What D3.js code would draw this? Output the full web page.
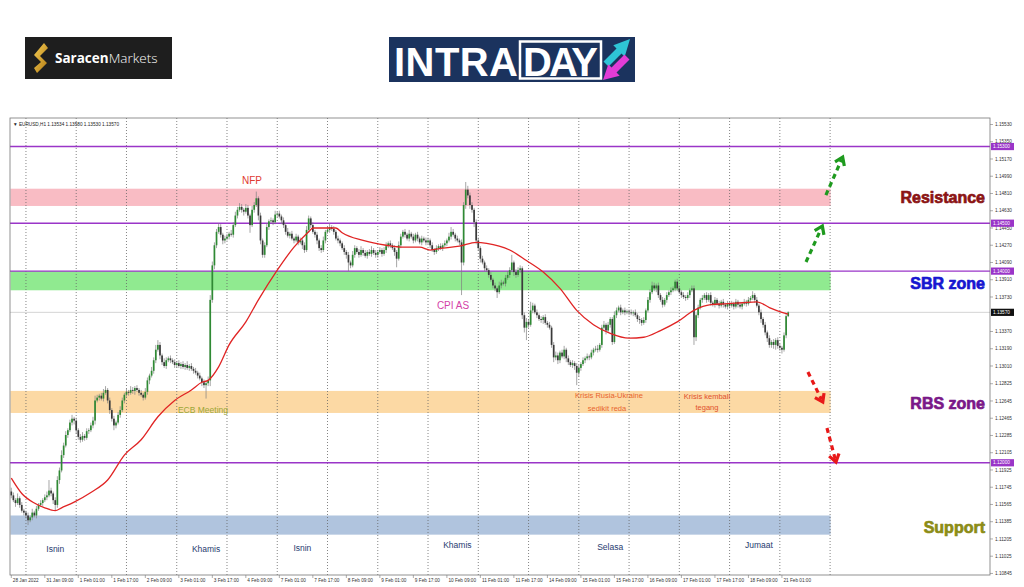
<!DOCTYPE html>
<html><head><meta charset="utf-8">
<script src="https://cdn.jsdelivr.net/npm/d3@7"></script>
<style>html,body{margin:0;padding:0;background:#fff;}svg{display:block;}</style>
</head><body>
<svg id="c" width="1024" height="587"></svg>
<script>
// ---------- DATA (EURUSD H1, prices in pips above BASE) ----------
const BASE = 1.1, PIP = 0.0001;
const firstOpen = 170;
const closes = [
166,161,158,163,156,150,148,
145,140,143,148,145,152,156,158,161,164,166,171,168,161,156,182,192,208,218,229,234,242,246,244,
234,227,224,228,226,233,234,239,244,265,268,270,267,273,276,265,255,246,239,242,250,255,265,271,
274,273,276,275,278,276,273,271,268,274,286,291,296,307,318,323,312,305,301,307,309,307,305,302,
304,301,303,300,302,299,301,298,296,294,291,288,284,281,283,286,370,406,427,441,446,438,432,434,
436,439,438,448,458,464,467,464,462,466,458,448,464,469,476,458,432,417,427,446,452,453,451,459,
460,457,453,448,441,437,439,434,432,436,430,432,427,422,443,455,448,441,438,432,424,422,432,441,
443,446,444,441,434,432,429,424,420,417,409,406,417,424,420,417,422,419,416,420,418,422,419,417,
420,422,418,422,426,429,427,424,420,413,427,436,441,438,434,439,436,432,438,434,430,434,432,430,
432,427,422,420,424,426,424,427,429,432,436,441,438,434,432,430,409,469,485,479,469,464,451,432,
424,413,409,403,401,396,391,385,382,378,385,388,387,393,396,401,409,399,396,401,403,354,341,347,
344,359,364,357,354,350,349,352,346,344,341,323,310,312,307,315,311,318,309,305,302,304,301,294,
299,303,307,309,311,310,315,318,319,318,323,341,344,338,344,350,326,354,359,362,357,359,357,358,
357,356,357,354,350,349,346,349,359,370,378,385,382,385,375,370,365,370,375,378,380,382,389,382,
378,375,373,372,375,380,382,331,354,362,370,372,375,370,375,367,365,370,366,364,368,365,363,366,
364,366,363,368,365,363,366,368,366,370,372,375,370,364,357,350,344,336,330,323,326,323,328,322,
320,318,333,353,357];
const wickUp = [
4,3,2,5,2,3,2,
2,3,2,4,2,3,2,3,2,3,4,11,3,2,3,4,3,5,3,4,2,3,4,2,
3,2,3,4,2,3,2,3,4,5,3,2,3,4,4,2,3,2,3,2,3,4,3,2,
3,2,4,3,2,3,2,3,2,4,3,2,4,3,5,5,3,2,4,3,2,3,2,3,
2,3,2,3,2,4,2,3,2,3,2,3,2,3,2,4,5,4,3,3,4,3,2,3,
3,2,4,3,4,3,4,3,2,4,3,2,4,3,7,2,3,2,3,4,2,3,2,4,
2,3,2,3,2,4,2,3,2,3,2,3,2,3,4,3,2,3,2,3,2,3,4,2,
3,4,2,3,2,3,2,2,3,2,3,2,4,3,2,3,4,2,3,2,3,4,2,3,
2,3,2,3,4,2,3,2,3,2,4,3,2,3,2,4,2,3,2,3,2,3,2,3,
3,2,3,2,3,2,3,2,3,2,4,5,3,2,3,2,3,3,8,4,3,3,2,3,
3,2,3,2,3,2,3,2,3,2,4,3,2,3,4,3,8,2,3,3,3,2,3,4,
3,9,3,2,3,2,3,2,3,2,3,2,3,4,3,2,3,4,2,3,2,3,2,3,
3,2,3,2,3,2,3,2,3,4,2,3,4,2,3,2,2,4,3,2,3,2,3,2,
2,3,2,3,2,3,2,3,2,3,3,4,3,2,3,2,3,2,3,2,3,2,2,3,
3,2,3,2,3,2,3,3,2,3,2,3,2,3,2,3,2,3,2,3,2,3,2,3,
2,3,2,3,2,3,2,3,2,3,2,4,2,3,2,3,2,3,2,3,2,3,2,3,
2,2,3,3,1];
const wickDn = [
3,2,4,2,3,2,3,
3,5,2,3,2,3,2,2,3,2,3,2,3,4,6,3,4,2,3,2,3,2,3,4,
4,3,3,2,3,2,3,2,3,4,2,3,2,3,2,3,4,3,5,3,2,3,2,3,
2,3,2,3,4,2,3,2,3,2,3,4,2,3,3,2,4,3,2,3,2,3,2,3,
3,2,3,2,3,2,3,2,3,2,3,2,4,3,14,3,6,3,4,3,2,3,4,3,
2,3,2,3,2,3,2,3,4,2,3,8,2,3,2,5,4,3,3,2,3,2,3,2,
3,2,4,3,3,2,3,2,3,2,3,2,4,3,2,3,3,2,3,4,3,3,2,3,
2,3,2,3,2,3,3,2,3,4,9,3,2,3,2,3,2,3,2,3,2,3,2,3,
3,2,3,2,3,2,3,2,4,9,2,3,2,3,2,3,2,3,2,3,2,3,2,3,
2,3,2,3,2,3,2,3,2,3,2,3,2,3,2,3,34,3,4,3,4,3,5,4,
3,4,2,3,2,3,2,3,3,6,2,3,2,3,2,3,2,4,3,2,3,4,5,13,
3,2,3,2,3,2,3,4,2,3,2,3,5,3,4,3,2,3,4,3,2,3,4,13,
4,3,2,3,2,3,2,3,2,3,2,3,2,4,2,3,3,2,3,2,3,2,3,2,
3,2,3,2,3,4,3,2,3,2,3,2,3,4,3,2,3,2,3,2,3,2,3,3,
2,3,2,3,2,3,2,8,4,3,2,3,2,3,2,3,2,3,2,3,2,3,2,3,
3,2,3,2,3,2,3,2,3,2,3,2,3,2,3,4,3,3,4,3,3,4,5,3,
3,4,2,3,1];
// moving average (red line) read at sample bars
const maIdx  = [0,5,11,16,21,24,30,38,46,54,62,70,78,86,91,94,99,104,112,118,127,135,142,144,155,158,168,179,187,195,200,206,214,222,227,238,246,254,262,270,278,286,295,302,310,318,326,334,342,349,356,362,368,371];
const maPips = [184,168,158,153,150,153,159,169,182,208,224,248,265,276,284,286,300,323,347,370,401,425,441,445,445,440,432,427,425,425,422,424,426,430,429,422,411,399,382,359,344,335,330,331,338,347,359,365,366,367,368,362,357,355];
// day separators (bar index of each day start) and time-axis labels
const dayStartIdx = [7,31,55,79,103,127,151,175,199,223,247,271,295,319,343,367,391];
const timeLabels = ["28 Jan 2022","31 Jan 09:00","1 Feb 01:00","1 Feb 17:00","2 Feb 09:00","3 Feb 01:00","3 Feb 17:00","4 Feb 09:00","7 Feb 01:00","7 Feb 17:00","8 Feb 09:00","9 Feb 01:00","9 Feb 17:00","10 Feb 09:00","11 Feb 01:00","11 Feb 17:00","14 Feb 09:00","15 Feb 01:00","15 Feb 17:00","16 Feb 09:00","17 Feb 01:00","17 Feb 17:00","18 Feb 09:00","21 Feb 01:00"];
const timeLabelIdx = [0,16,32,48,64,80,96,112,128,144,160,176,192,208,224,240,256,272,288,304,320,336,352,368];
const priceTicks = [1.15530,1.15350,1.15170,1.14990,1.14810,1.14630,1.14450,1.14270,1.14090,1.13910,1.13730,1.13370,1.13190,1.13010,1.12825,1.12645,1.12465,1.12285,1.12105,1.11925,1.11745,1.11565,1.11385,1.11205,1.11025,1.10845];
const levels = [1.15300,1.14500,1.14000,1.12000];
const currentPrice = 1.13570;
const zoneNames = ["Resistance","SBR zone","RBS zone","Support"];
const zoneLow  = [1.1468,1.1380,1.1252,1.1125];
const zoneHigh = [1.1486,1.1400,1.1275,1.1145];
const zoneFill = ["#f9bcc4","#90ea90","#fcd9a4","#b0c4de"];
const zoneTextColor = ["#8b1414","#1616d0","#7a1888","#8c8c16"];
const dayNames = ["Isnin","Khamis","Isnin","Khamis","Selasa","Jumaat"];
const dayNameIdx = [21,93,139,213,286,357];
const dayNameY = [549,549,548,545,547,545];

// ---------- SCALES ----------
const svg = d3.select("#c");
const L = 10, R = 990, T = 118, B = 575;
const x = d3.scaleLinear().domain([0,391]).range([11.3,830.1]);
const y = d3.scaleLinear().domain([1.108290,1.155874]).range([575,119]);
const P = v => BASE + v*PIP;

const bars = closes.map((c,i)=>{
  const o = i===0 ? firstOpen : closes[i-1];
  return {i, o:P(o), c:P(c), h:P(Math.max(o,c)+(wickUp[i]||0)), l:P(Math.min(o,c)-(wickDn[i]||0))};
});

// ---------- LOGOS ----------
const defs = svg.append("defs");
const g1 = defs.append("linearGradient").attr("id","gold").attr("x1",0).attr("y1",0).attr("x2",1).attr("y2",1);
g1.append("stop").attr("offset","0%").attr("stop-color","#f7cf55");
g1.append("stop").attr("offset","100%").attr("stop-color","#b07812");
svg.append("rect").attr("x",25).attr("y",37).attr("width",147).attr("height",42).attr("fill","#1e1e1e");
svg.append("path").attr("d","M44,43 L48,48 L40,56 L47,63 L37,73 L34,68 L41,62 L34,55 Z").attr("fill","url(#gold)");
const st = svg.append("text").attr("x",55).attr("y",63).attr("fill","#fff").attr("font-family","Open Sans, Liberation Sans, sans-serif").attr("font-size",13.5);
st.append("tspan").attr("font-weight",700).text("Saracen");
st.append("tspan").attr("font-weight",300).text("Markets");

svg.append("rect").attr("x",389).attr("y",37).attr("width",246).attr("height",45).attr("fill","#1b335e");
svg.append("text").attr("x",394).attr("y",76).attr("fill","#fff").attr("font-family","Liberation Sans, Arial, sans-serif").attr("font-weight",700).attr("font-size",40).attr("textLength",124).text("INTRA");
svg.append("rect").attr("x",520).attr("y",41.5).attr("width",81).attr("height",37).attr("fill","none").attr("stroke","#fff").attr("stroke-width",2.5);
svg.append("text").attr("x",523).attr("y",76).attr("fill","#fff").attr("font-family","Liberation Sans, Arial, sans-serif").attr("font-weight",700).attr("font-size",40).attr("textLength",75).text("DAY");
svg.append("polygon").attr("points","603.5,61.5 616.5,48.5 613.3,45.3 630,39 624.7,56.7 621.5,53.5 608.5,66.5").attr("fill","#2ec5d6");
svg.append("polygon").attr("points","624.5,54.5 611.5,67.5 608.3,64.3 603,80 619.7,75.7 616.5,72.5 629.5,59.5").attr("fill","#e23cd6");

// ---------- ZONES ----------
const zg = svg.append("g");
zoneNames.forEach((n,k)=>{
  zg.append("rect").attr("x",L+0.5).attr("y",y(zoneHigh[k])).attr("width",x(391)-L)
    .attr("height",y(zoneLow[k])-y(zoneHigh[k])).attr("fill",zoneFill[k]);
});

// ---------- GRID ----------
svg.append("g").selectAll("line").data(dayStartIdx).join("line")
  .attr("x1",d=>x(d)).attr("x2",d=>x(d)).attr("y1",T).attr("y2",B)
  .attr("stroke","#666").attr("stroke-width",0.8).attr("stroke-dasharray","1,2");

// current price line
svg.append("line").attr("x1",L).attr("x2",R).attr("y1",y(currentPrice)).attr("y2",y(currentPrice)).attr("stroke","#c8c8c8").attr("stroke-width",0.8);

// levels
svg.append("g").selectAll("line").data(levels).join("line")
  .attr("x1",L).attr("x2",R).attr("y1",d=>y(d)).attr("y2",d=>y(d))
  .attr("stroke","#9a35c8").attr("stroke-width",1.4);

// ---------- CANDLES ----------
const cg = svg.append("g");
cg.selectAll("line").data(bars).join("line")
  .attr("x1",d=>x(d.i)).attr("x2",d=>x(d.i)).attr("y1",d=>y(d.h)).attr("y2",d=>y(d.l))
  .attr("stroke","#808080").attr("stroke-width",0.7);
cg.selectAll("rect").data(bars).join("rect")
  .attr("x",d=>x(d.i)-0.85).attr("width",1.7)
  .attr("y",d=>y(Math.max(d.o,d.c)))
  .attr("height",d=>Math.max(0.8,Math.abs(y(d.o)-y(d.c))))
  .attr("fill",d=>d.c>=d.o?"#2f8a34":"#3a3a3a");

// MA
svg.append("path").datum(maIdx.map((d,k)=>[d,P(maPips[k])]))
  .attr("d",d3.line().x(d=>x(d[0])).y(d=>y(d[1])).curve(d3.curveMonotoneX))
  .attr("fill","none").attr("stroke","#e02424").attr("stroke-width",1.3);

// ---------- FRAME & AXES ----------
svg.append("rect").attr("x",L).attr("y",T).attr("width",R-L).attr("height",B-T).attr("fill","none").attr("stroke","#777").attr("stroke-width",0.8);
const ax = svg.append("g").attr("font-family","Liberation Sans, Arial, sans-serif").attr("font-size",4.7).attr("fill","#333");
priceTicks.forEach(v=>{
  ax.append("line").attr("x1",R).attr("x2",R+3).attr("y1",y(v)).attr("y2",y(v)).attr("stroke","#777").attr("stroke-width",0.6);
  ax.append("text").attr("x",R+5).attr("y",y(v)+1.7).text(v.toFixed(5));
});
timeLabels.forEach((t,k)=>{
  const xx = x(timeLabelIdx[k]);
  ax.append("line").attr("x1",xx).attr("x2",xx).attr("y1",B).attr("y2",B+3).attr("stroke","#777").attr("stroke-width",0.6);
  ax.append("text").attr("x",xx+1.5).attr("y",B+7).text(t);
});
levels.forEach(v=>{
  ax.append("rect").attr("x",R+1).attr("y",y(v)-3.6).attr("width",23).attr("height",7.2).attr("fill","#9a35c8");
  ax.append("text").attr("x",R+3).attr("y",y(v)+1.7).attr("fill","#fff").text(v.toFixed(5));
});
ax.append("rect").attr("x",R+1).attr("y",y(currentPrice)-3.6).attr("width",23).attr("height",7.2).attr("fill","#111");
ax.append("text").attr("x",R+3).attr("y",y(currentPrice)+1.7).attr("fill","#fff").text(currentPrice.toFixed(5));
ax.append("text").attr("x",13).attr("y",126).attr("fill","#222")
  .text("\u25BC EURUSD,H1  1.13534 1.13580 1.13530 " + currentPrice.toFixed(5));

// ---------- ANNOTATIONS ----------
const an = svg.append("g").attr("font-family","Liberation Sans, Arial, sans-serif").attr("text-anchor","middle");
an.append("text").attr("x",252).attr("y",184).attr("fill","#e03a32").attr("font-size",10).text("NFP");
an.append("text").attr("x",453).attr("y",309).attr("fill","#d43fa8").attr("font-size",10).text("CPI AS");
an.append("text").attr("x",203).attr("y",413).attr("fill","#9aa636").attr("font-size",8.5).text("ECB Meeting");
an.append("text").attr("x",609).attr("y",398).attr("fill","#e8642e").attr("font-size",7.5).text("Krisis Rusia-Ukraine");
an.append("text").attr("x",607).attr("y",411).attr("fill","#e8642e").attr("font-size",7.5).text("sedikit reda");
an.append("text").attr("x",707).attr("y",399).attr("fill","#e0502c").attr("font-size",7.5).text("Krisis kembali");
an.append("text").attr("x",707).attr("y",410).attr("fill","#e0502c").attr("font-size",7.5).text("tegang");
dayNames.forEach((n,k)=>{
  an.append("text").attr("x",x(dayNameIdx[k])).attr("y",dayNameY[k]+3).attr("fill","#1f3b70").attr("font-size",8.5).text(n);
});
const zl = svg.append("g").attr("font-family","Liberation Sans, Arial, sans-serif").attr("font-weight",700).attr("text-anchor","end").attr("font-size",16);
zoneNames.forEach((n,k)=>{
  const yy = [203,289,409,533][k];
  zl.append("text").attr("x",985).attr("y",yy).attr("fill",zoneTextColor[k])
    .attr("stroke",zoneTextColor[k]).attr("stroke-width",0.7).attr("stroke-linejoin","round").text(n);
});

// dashed arrows
function arrow(i0,p0,i1,p1,col){
  const xa=x(i0), ya=y(p0), xb=x(i1), yb=y(p1);
  const ang = Math.atan2(yb-ya, xb-xa);
  svg.append("line").attr("x1",xa).attr("y1",ya).attr("x2",xb-Math.cos(ang)*3).attr("y2",yb-Math.sin(ang)*3)
    .attr("stroke",col).attr("stroke-width",3.2).attr("stroke-dasharray","5,4");
  const hl=9, sp=0.6;
  const p1x = xb-hl*Math.cos(ang-sp), p1y = yb-hl*Math.sin(ang-sp);
  const p2x = xb-hl*Math.cos(ang+sp), p2y = yb-hl*Math.sin(ang+sp);
  svg.append("polyline").attr("points",`${p1x},${p1y} ${xb},${yb} ${p2x},${p2y}`)
    .attr("fill","none").attr("stroke",col).attr("stroke-width",3.2);
}
arrow(379.5,1.14095,387.3,1.14471,"#1e9a1e");
arrow(389,1.14794,397,1.15190,"#1e9a1e");
arrow(380.4,1.12947,387.5,1.12634,"#e81818");
arrow(389.5,1.12363,393.8,1.12008,"#e81818");
</script>
</body></html>
